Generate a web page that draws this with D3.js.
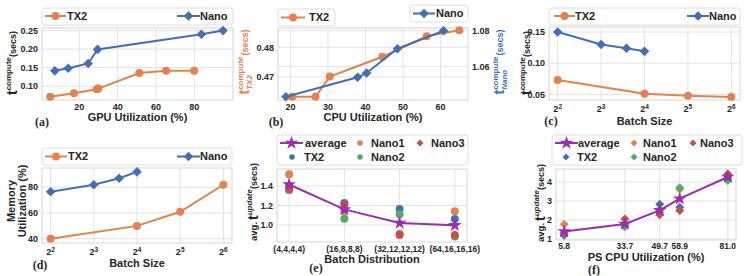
<!DOCTYPE html>
<html>
<head>
<meta charset="utf-8">
<script src="https://cdn.jsdelivr.net/npm/d3@7"></script>
<style>
  body { margin: 0; background: #fff; }
  text { font-family: "Liberation Sans", Arial, sans-serif; font-weight: bold; fill: #262626; }
</style>
</head>
<body>
<svg id="chart" width="747" height="276"></svg>
<script>
// ---- data ----
// (a) compute time vs GPU utilization
const gpuUtilTX2 = [4.8, 17.2, 29.1, 29.9, 51.3, 65.3, 79.9];
const gpuTimeTX2 = [0.071, 0.080, 0.091, 0.093, 0.135, 0.141, 0.141];
const gpuUtilNano = [7.2, 14.2, 24.6, 29.5, 83.7, 95.0];
const gpuTimeNano = [0.141, 0.148, 0.161, 0.199, 0.240, 0.250];

// (b) compute time vs CPU utilization (two y axes)
const cpuUtilTX2 = [20.5, 26.7, 30.5, 44.5, 56.3, 65.0];
const cpuTimeTX2 = [0.4632, 0.4632, 0.4701, 0.4768, 0.4838, 0.4858];
const cpuUtilNano = [18.8, 37.9, 40.3, 48.5, 60.8];
const cpuTimeNano = [1.0433, 1.0541, 1.0565, 1.0700, 1.0800];

// (c), (d) batch size
const batchTX2 = [4, 16, 32, 64];
const batchNano = [4, 8, 12, 16];
const batchTimeTX2 = [0.073, 0.051, 0.048, 0.046];
const batchTimeNano = [0.150, 0.130, 0.124, 0.119];
const memTX2 = [40, 50, 61, 82];
const memNano = [76.5, 82, 87, 92];

// (e) update time vs batch distribution
const distLabels = ["(4,4,4,4)", "(16,8,8,8)", "(32,12,12,12)", "(64,16,16,16)"];
const distTX2 = [1.40, 1.225, 1.165, 1.062];
const distNano1 = [1.52, 1.14, 0.91, 1.14];
const distNano2 = [1.38, 1.065, 1.11, 0.883];
const distNano3 = [1.36, 1.21, 0.897, 0.897];
const distAvg = [1.415, 1.16, 1.02, 0.997];

// (f) update time vs PS CPU utilization
const psCpu = [5.8, 33.7, 49.7, 58.9, 81.0];
const psTX2 = [1.20, 1.70, 2.83, 2.67, 4.18];
const psNano1 = [1.78, 1.75, 2.40, 3.62, 4.38];
const psNano2 = [1.30, 1.65, 2.55, 3.70, 4.08];
const psNano3 = [1.32, 2.05, 2.27, 2.50, 4.42];
const psAvg = [1.40, 1.79, 2.51, 3.12, 4.26];

// tick labels
const aXTicks = [20, 40, 60, 80], aYTicks = [0.10, 0.15, 0.20, 0.25];
const bXTicks = [20, 30, 40, 50, 60], bYTicksL = [0.47, 0.48], bYTicksR = [1.06, 1.08];
const logTicks = [4, 8, 16, 32, 64];
const cYTicks = [0.05, 0.10, 0.15];
const dYTicks = [40, 60, 80];
const eYTicks = [1.0, 1.2, 1.4];
const fYTicks = [1, 2, 3, 4];

const orange = "#e1824f", blue = "#4470b3", green = "#55a868", red = "#c44e52", purple = "#9a2fae";
const gridColor = "#e3e3e3", frameColor = "#d6d6d6";

const svg = d3.select("#chart");

function panel(p) {
  const x = (p.log ? d3.scaleLog().base(2) : d3.scaleLinear()).domain(p.xDomain).range([p.left, p.right]);
  const y = d3.scaleLinear().domain(p.yDomain).range([p.bottom, p.top]);
  const g = svg.append("g");
  g.selectAll("line.gx").data(p.xTicks).join("line").attr("class", "gx")
    .attr("x1", d => x(d)).attr("x2", d => x(d)).attr("y1", p.top).attr("y2", p.bottom)
    .attr("stroke", gridColor);
  g.selectAll("line.gy").data(p.yTicks).join("line").attr("class", "gy")
    .attr("x1", p.left).attr("x2", p.right).attr("y1", d => y(d)).attr("y2", d => y(d))
    .attr("stroke", gridColor);
  g.append("rect").attr("x", p.left).attr("y", p.top)
    .attr("width", p.right - p.left).attr("height", p.bottom - p.top)
    .attr("fill", "none").attr("stroke", frameColor);
  // y tick labels
  g.selectAll("text.ty").data(p.yTicks).join("text").attr("class", "ty")
    .attr("x", p.left - 4).attr("y", d => y(d)).attr("dy", "0.35em")
    .attr("text-anchor", "end").style("font-size", "9px")
    .text(d3.format(p.yFmt));
  // x tick labels
  const tx = g.selectAll("text.tx").data(p.xTicks).join("text").attr("class", "tx")
    .attr("x", d => x(d)).attr("y", p.bottom + (p.tickDy || 7)).attr("dy", "0.35em")
    .attr("text-anchor", "middle").style("font-size", p.tickSize || "9px");
  if (p.log) {
    tx.text("2").append("tspan").attr("dy", "-0.5em").style("font-size", "6.5px")
      .text(d => Math.round(Math.log2(d)));
  } else if (p.xLabels) {
    tx.text((d, i) => p.xLabels[i]);
  } else {
    tx.text(d3.format(p.xFmt));
  }
  g.append("text").attr("x", (p.left + p.right) / 2 + (p.titleDx || 0)).attr("y", p.titleY)
    .attr("dy", "0.35em").attr("text-anchor", "middle").style("font-size", "11px").text(p.xTitle);
  g.append("text").attr("x", p.tagX).attr("y", p.tagY).attr("dy", "0.35em")
    .attr("text-anchor", "middle").style("font-family", "'Liberation Serif', 'Times New Roman', serif")
    .style("font-size", "12px").text(p.tag);
  return { x, y, g };
}

// rotated y title built from pieces (t, superscript, subscript, ...)
function yTitle(cx, cy, segs, color) {
  const g = svg.append("g").attr("transform", `translate(${cx},${cy}) rotate(-90)`);
  const inner = g.append("g");
  let end = 0, start = 0;
  segs.forEach(s => {
    const t = inner.append("text").attr("y", s.dy || 0).style("font-size", s.size + "px")
      .style("font-style", s.italic ? "italic" : null).style("fill", color).text(s.text);
    if (s.same) {
      t.attr("x", start);
      end = Math.max(end, start + t.node().getComputedTextLength());
    } else {
      start = end + (s.gap || 0);
      t.attr("x", start);
      end = start + t.node().getComputedTextLength();
    }
  });
  inner.attr("transform", `translate(${-end / 2},0)`);
}

function diamond(size) {
  return d3.symbol(d3.symbolSquare, size)();
}
const starPath = d3.symbol(d3.symbolStar, 58)();

function drawSeries(g, xs, ys, x, y, color, marker) {
  const pts = xs.map((v, i) => [x(v), y(ys[i])]);
  g.append("path").attr("d", d3.line()(pts)).attr("fill", "none")
    .attr("stroke", color).attr("stroke-width", 2);
  g.selectAll(null).data(pts).join("path")
    .attr("transform", d => `translate(${d[0]},${d[1]})` + (marker === "D" ? " rotate(45)" : ""))
    .attr("d", marker === "D" ? diamond(46) : d3.symbol(d3.symbolCircle, 50)())
    .attr("fill", color);
}

function legendBox(x, y, w, h) {
  svg.append("rect").attr("x", x).attr("y", y).attr("width", w).attr("height", h)
    .attr("rx", 3).attr("fill", "#fff").attr("stroke", "#dedede");
}
function legendItem(x1, x2, y, color, marker, label, tx) {
  const g = svg.append("g");
  if (x2 > x1) {
    g.append("line").attr("x1", x1).attr("x2", x2).attr("y1", y).attr("y2", y)
      .attr("stroke", color).attr("stroke-width", 2);
  }
  const mx = (x1 + x2) / 2;
  let d, rot = "";
  if (marker === "D") { d = diamond(46); rot = " rotate(45)"; }
  else if (marker === "d") { d = diamond(24); rot = " rotate(45)"; }
  else if (marker === "star") d = starPath;
  else if (marker === "o") d = d3.symbol(d3.symbolCircle, 50)();
  else d = d3.symbol(d3.symbolCircle, 24)();
  g.append("path").attr("d", d).attr("transform", `translate(${mx},${y})` + rot).attr("fill", color);
  g.append("text").attr("x", tx).attr("y", y).attr("dy", "0.35em").style("font-size", "11px").text(label);
}

// ---------- (a) ----------
{
  const { x, y, g } = panel({
    left: 42, right: 233, top: 28, bottom: 100,
    xDomain: [0.5, 100.2], yDomain: [0.062, 0.257],
    xTicks: aXTicks, yTicks: aYTicks, xFmt: "d", yFmt: ".2f",
    xTitle: "GPU Utilization (%)", titleY: 117.5,
    tag: "(a)", tagX: 42, tagY: 122
  });
  drawSeries(g, gpuUtilTX2, gpuTimeTX2, x, y, orange, "o");
  drawSeries(g, gpuUtilNano, gpuTimeNano, x, y, blue, "D");
  legendBox(42, 8, 191, 17);
  legendItem(45, 66, 16, orange, "o", "TX2", 67);
  legendItem(177, 200, 16, blue, "D", "Nano", 200);
  yTitle(17, 63, [{ text: "t", size: 14 }, { text: "compute", size: 8, dy: -6 }, { text: "(secs)", size: 9, dy: -1 }], "#262626");
}

// ---------- (b) ----------
{
  const { x, y, g } = panel({
    left: 278, right: 468, top: 28, bottom: 100,
    xDomain: [16.7, 67.3], yDomain: [0.4621, 0.4866],
    xTicks: bXTicks, yTicks: bYTicksL, xFmt: "d", yFmt: ".2f",
    xTitle: "CPU Utilization (%)", titleY: 117.5,
    tag: "(b)", tagX: 276, tagY: 122
  });
  const yR = d3.scaleLinear().domain([1.0415, 1.0815]).range([100, 28]);
  g.selectAll("line.gr").data(bYTicksR).join("line").attr("class", "gr")
    .attr("x1", 278).attr("x2", 468).attr("y1", d => yR(d)).attr("y2", d => yR(d))
    .attr("stroke", gridColor);
  g.selectAll("text.tr").data(bYTicksR).join("text").attr("class", "tr")
    .attr("x", 472).attr("y", d => yR(d)).attr("dy", "0.35em").style("font-size", "9px")
    .text(d3.format(".2f"));
  drawSeries(g, cpuUtilTX2, cpuTimeTX2, x, y, orange, "o");
  drawSeries(g, cpuUtilNano, cpuTimeNano, x, yR, blue, "D");
  legendBox(278, 9, 57, 17);
  legendItem(281, 305, 17.5, orange, "o", "TX2", 309);
  legendBox(410, 5, 58, 17);
  legendItem(413, 435, 13.5, blue, "D", "Nano", 436);
  yTitle(249, 62, [{ text: "t", size: 14 }, { text: "compute", size: 8, dy: -6 },
    { text: "TX2", size: 8, dy: 3, italic: true, same: true }, { text: "(secs)", size: 9, dy: -1, gap: 1 }], orange);
  yTitle(504, 62, [{ text: "t", size: 14 }, { text: "compute", size: 8, dy: -6 },
    { text: "Nano", size: 8, dy: 3, italic: true, same: true }, { text: "(secs)", size: 9, dy: -1, gap: 1 }], blue);
}

// ---------- (c) ----------
{
  const { x, y, g } = panel({
    left: 549, right: 740, top: 27, bottom: 100, log: true, tickDy: 9,
    xDomain: [Math.pow(2, 1.8), Math.pow(2, 6.2)], yDomain: [0.041, 0.158],
    xTicks: logTicks, yTicks: cYTicks, yFmt: ".2f",
    xTitle: "Batch Size", titleY: 121,
    tag: "(c)", tagX: 551, tagY: 121
  });
  drawSeries(g, batchTX2, batchTimeTX2, x, y, orange, "o");
  drawSeries(g, batchNano, batchTimeNano, x, y, blue, "D");
  legendBox(549, 8, 191, 17);
  legendItem(554, 575, 16, orange, "o", "TX2", 575);
  legendItem(687, 709, 16, blue, "D", "Nano", 709);
  yTitle(531, 63, [{ text: "t", size: 14 }, { text: "compute", size: 8, dy: -6 }, { text: "(secs)", size: 9, dy: -1 }], "#262626");
}

// ---------- (d) ----------
{
  const { x, y, g } = panel({
    left: 42, right: 232, top: 168, bottom: 243, log: true, tickDy: 9,
    xDomain: [Math.pow(2, 1.8), Math.pow(2, 6.2)], yDomain: [36.7, 95],
    xTicks: logTicks, yTicks: dYTicks, yFmt: "d",
    xTitle: "Batch Size", titleY: 263,
    tag: "(d)", tagX: 40, tagY: 265
  });
  drawSeries(g, batchTX2, memTX2, x, y, orange, "o");
  drawSeries(g, batchNano, memNano, x, y, blue, "D");
  legendBox(42, 148, 190, 17);
  legendItem(45, 67, 156.5, orange, "o", "TX2", 68);
  legendItem(177, 200, 156.5, blue, "D", "Nano", 200);
  const t = svg.append("g").attr("transform", "translate(0,201) rotate(-90)");
  t.append("text").attr("y", 15).attr("text-anchor", "middle").style("font-size", "11px").text("Memory");
  t.append("text").attr("y", 26).attr("text-anchor", "middle").style("font-size", "11px").text("Utilization (%)");
}

// ---------- (e) ----------
{
  const idx = distLabels.map((d, i) => i);
  const { x, y, g } = panel({
    left: 277, right: 467, top: 169, bottom: 242, tickSize: "8.5px",
    xDomain: [-0.22, 3.22], yDomain: [0.826, 1.574],
    xTicks: idx, yTicks: eYTicks, xLabels: distLabels, yFmt: ".1f",
    xTitle: "Batch Distribution", titleY: 259,
    tag: "(e)", tagX: 316, tagY: 268
  });
  const circ = d3.symbol(d3.symbolCircle, 50)();
  [[distTX2, blue], [distNano1, orange], [distNano2, green], [distNano3, red]].forEach(([vals, c]) => {
    g.selectAll(null).data(vals).join("path").attr("d", circ)
      .attr("transform", (d, i) => `translate(${x(i)},${y(d)})`).attr("fill", c);
  });
  g.append("path").attr("d", d3.line()(distAvg.map((d, i) => [x(i), y(d)])))
    .attr("fill", "none").attr("stroke", purple).attr("stroke-width", 2);
  g.selectAll(null).data(distAvg).join("path").attr("d", starPath)
    .attr("transform", (d, i) => `translate(${x(i)},${y(d)})`).attr("fill", purple);
  legendBox(277, 135, 191, 30);
  legendItem(280, 303, 143, purple, "star", "average", 305);
  legendItem(292, 292, 157, blue, "s", "TX2", 304);
  legendItem(360, 360, 143, orange, "s", "Nano1", 371);
  legendItem(360, 360, 157, green, "s", "Nano2", 371);
  legendItem(420, 420, 143, red, "d", "Nano3", 431);
  yTitle(258, 202, [{ text: "avg. ", size: 9.5, dy: -1 }, { text: "t", size: 14, gap: 2 },
    { text: "update", size: 8, dy: -6, italic: true }, { text: "(secs)", size: 9, dy: -1 }], "#262626");
}

// ---------- (f) ----------
{
  const { x, y, g } = panel({
    left: 556, right: 736, top: 169, bottom: 240, tickSize: "8.5px", tickDy: 6,
    xDomain: [2.04, 84.76], yDomain: [0.95, 4.68],
    xTicks: psCpu, yTicks: fYTicks, xFmt: ".1f", yFmt: "d",
    xTitle: "PS CPU Utilization (%)", titleY: 257,
    tag: "(f)", tagX: 594, tagY: 270
  });
  const dia = diamond(40);
  [[psTX2, blue], [psNano1, orange], [psNano2, green], [psNano3, red]].forEach(([vals, c]) => {
    g.selectAll(null).data(vals).join("path").attr("d", dia)
      .attr("transform", (d, i) => `translate(${x(psCpu[i])},${y(d)}) rotate(45)`).attr("fill", c);
  });
  g.append("path").attr("d", d3.line()(psAvg.map((d, i) => [x(psCpu[i]), y(d)])))
    .attr("fill", "none").attr("stroke", purple).attr("stroke-width", 2);
  g.selectAll(null).data(psAvg).join("path").attr("d", starPath)
    .attr("transform", (d, i) => `translate(${x(psCpu[i])},${y(d)})`).attr("fill", purple);
  legendBox(552, 135, 190, 30);
  legendItem(555, 578, 143, purple, "star", "average", 578);
  legendItem(566, 566, 157, blue, "d", "TX2", 577);
  legendItem(634, 634, 143, orange, "d", "Nano1", 643);
  legendItem(634, 634, 157, green, "d", "Nano2", 643);
  legendItem(693, 693, 143, red, "d", "Nano3", 700);
  yTitle(545, 203, [{ text: "avg. ", size: 9.5, dy: -1 }, { text: "t", size: 14, gap: 2 },
    { text: "update", size: 8, dy: -6, italic: true }, { text: "(secs)", size: 9, dy: -1 }], "#262626");
}
</script>
</body>
</html>
